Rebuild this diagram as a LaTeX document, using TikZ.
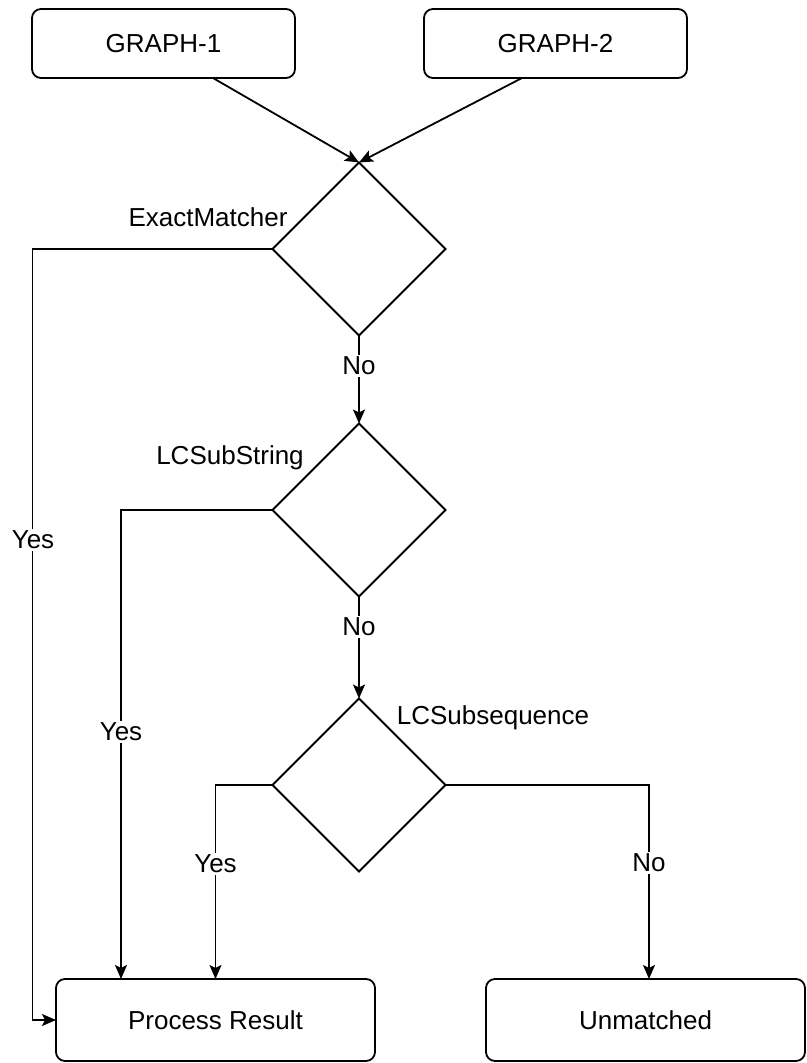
\documentclass[tikz,border=0pt]{standalone}
\usepackage{fontspec}
\setmainfont{Liberation Sans}
\usetikzlibrary{shapes.geometric,arrows.meta}
\begin{document}
\begin{tikzpicture}[x=1pt,y=-1pt,
  txt/.style={font=\fontsize{26}{31}\selectfont},
  box/.style={txt,draw,line width=1.8pt,rounded corners=9pt,inner sep=0pt,outer sep=0pt},
  dec/.style={draw,line width=1.8pt,diamond,minimum width=173pt,minimum height=173pt,inner sep=0pt,outer sep=0pt,shape aspect=1},
  lbl/.style={txt,inner sep=1pt},
  elbl/.style={txt,fill=white,inner sep=2pt},
  conn/.style={line width=1.8pt,-{Stealth[length=14pt,width=12pt,inset=3pt]}}
]
\useasboundingbox (0,0) rectangle (806,1063);

\node[box,minimum width=263pt,minimum height=69pt] (g1) at (163.5,43.5) {GRAPH-1};
\node[box,minimum width=263pt,minimum height=69pt] (g2) at (555.5,43.5) {GRAPH-2};

\node[dec] (d1) at (359,249) {};
\node[dec] (d2) at (359,510) {};
\node[dec] (d3) at (359,785) {};

\node[box,minimum width=319pt,minimum height=82pt] (pr) at (215.5,1020) {Process Result};
\node[box,minimum width=319pt,minimum height=82pt] (um) at (645.5,1020) {Unmatched};

\node[lbl] (l1) at (208,217) {ExactMatcher};
\node[lbl] (l2) at (230,458) {LCSubString};
\node[lbl] (l3) at (493,718) {LCSubsequence};

\draw[conn] ([xshift=49.5pt]g1.south) -- (d1.north);
\draw[conn] ([xshift=-33.5pt]g2.south) -- (d1.north);

\draw[conn] (d1.south) -- (d2.north);
\draw[conn] (d2.south) -- (d3.north);

\draw[conn] (d1.west) -- ++(-240,0) |- (pr.west);
\draw[conn] (d2.west) -| ([xshift=-94.5pt]pr.north);
\draw[conn] (d3.west) -| (pr.north);
\draw[conn] (d3.east) -| ([xshift=3.5pt]um.north);

\node[elbl] (y1) at (33,540) {Yes};
\node[elbl] (y2) at (121,732) {Yes};
\node[elbl] (y3) at (215.5,864) {Yes};
\node[elbl] (n1) at (359,366) {No};
\node[elbl] (n2) at (359,627) {No};
\node[elbl] (n3) at (649,863) {No};
\end{tikzpicture}
\end{document}
